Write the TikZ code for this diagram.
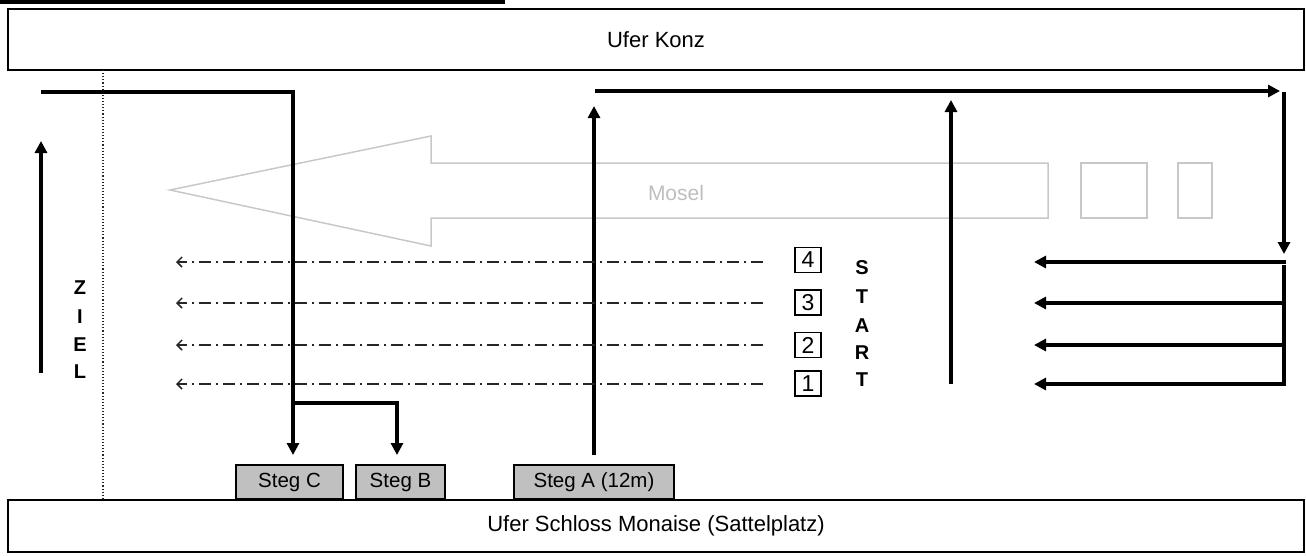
\documentclass[tikz,border=0pt]{standalone}
\usepackage{fontspec}
\setmainfont{Liberation Sans}
\usetikzlibrary{arrows.meta}
\definecolor{rivergray}{HTML}{C8C8C8}
\definecolor{steggray}{HTML}{C0C0C0}
\begin{document}
\begin{tikzpicture}[x=1pt,y=-1pt,
 bank/.style={draw,line width=2pt,inner sep=0pt,font=\fontsize{22}{26}\selectfont},
 steg/.style={draw,line width=1.2pt,fill=steggray,inner sep=0pt,minimum height=34pt,font=\fontsize{20.5}{24}\selectfont},
 route/.style={line width=3.2pt,-{Triangle[length=12pt,width=12pt]}},
 routeline/.style={line width=3.2pt},
 lane/.style={line width=1.5pt,draw=black!85,dash pattern=on 12pt off 5pt on 2pt off 5pt,-{Straight Barb[length=5pt,width=10pt]}},
 lanebox/.style={draw,line width=1.5pt,minimum width=26pt,minimum height=25pt,inner sep=0pt,font=\fontsize{23}{24}\selectfont},
 letter/.style={font=\bfseries\fontsize{20}{22}\selectfont,inner sep=0pt},
 river/.style={draw=rivergray,line width=1.5pt},
]
\useasboundingbox (0,0) rectangle (1306,555);
% cut-off underline at the very top
\fill (0,0) rectangle (505,3.5);
% banks
\node[bank,minimum width=1296pt,minimum height=61pt] (konz) at (656,39.5) {Ufer Konz};
\node[bank,minimum width=1296pt,minimum height=52pt] (monaise) at (656,526) {Ufer Schloss Monaise (Sattelplatz)};
% finish line
\draw[dotted,line width=1.1pt,black!85] (103,70) -- (103,500);
% river
\draw[river,line join=miter] (170,190) -- (431,136) -- (431,163) -- (1048,163) -- (1048,218) -- (431,218) -- (431,246) -- cycle;
\draw[river] (1081,163) rectangle (1147,218);
\draw[river] (1178,163) rectangle (1212,218);
\node[text=rivergray!95!black,font=\fontsize{21}{25}\selectfont] (mosel) at (676,193) {Mosel};
% jetties
\node[steg,minimum width=107pt] (stegC) at (289.5,482) {Steg C};
\node[steg,minimum width=89pt] (stegB) at (400.5,482) {Steg B};
\node[steg,minimum width=160pt] (stegA) at (594,482) {Steg A (12m)};
% coordinates of the routes
\coordinate (l0) at (41,92);
\coordinate (l1) at (293,92);
\coordinate (l2) at (293,455);
\coordinate (b0) at (293,403);
\coordinate (b1) at (397,403);
\coordinate (b2) at (397,455);
\coordinate (a0) at (594,455);
\coordinate (a1) at (594,106);
\coordinate (t0) at (595,91);
\coordinate (t1) at (1280,91);
\coordinate (d0) at (1284,92);
\coordinate (d1) at (1284,254);
\coordinate (v0) at (1284,265);
\coordinate (v1) at (1284,384);
\coordinate (m0) at (951,384);
\coordinate (m1) at (951,100);
\coordinate (z0) at (41,373);
\coordinate (z1) at (41,141);
% routes
\draw[route,line join=miter] (l0) -- (l1) -- (l2);
\draw[route,line join=miter] (b0) -- (b1) -- (b2);
\draw[route] (a0) -- (a1);
\draw[route] (t0) -- (t1);
\draw[route] (d0) -- (d1);
\draw[routeline] (v0) -- (v1);
\draw[route] (m0) -- (m1);
\draw[route] (z0) -- (z1);
\foreach \y [count=\i] in {262,303,345,384}{
  \coordinate (h\i a) at (1285.6,\y);
  \coordinate (h\i b) at (1034,\y);
  \draw[route] (h\i a) -- (h\i b);
  \coordinate (r\i a) at (763,\y);
  \coordinate (r\i b) at (176,\y);
  \draw[lane] (r\i a) -- (r\i b);
}
% lane numbers
\node[lanebox] (n4) at (808,260) {4};
\node[lanebox] (n3) at (808,302.5) {3};
\node[lanebox] (n2) at (808,345) {2};
\node[lanebox] (n1) at (808,383.5) {1};
% START
\node[letter] (s1) at (862,268) {S};
\node[letter] (s2) at (862,297) {T};
\node[letter] (s3) at (862,326) {A};
\node[letter] (s4) at (862,353) {R};
\node[letter] (s5) at (862,380) {T};
% ZIEL
\node[letter] (z1t) at (80,288) {Z};
\node[letter] (z2t) at (80,317) {I};
\node[letter] (z3t) at (80,345) {E};
\node[letter] (z4t) at (80,372) {L};
\end{tikzpicture}
\end{document}
